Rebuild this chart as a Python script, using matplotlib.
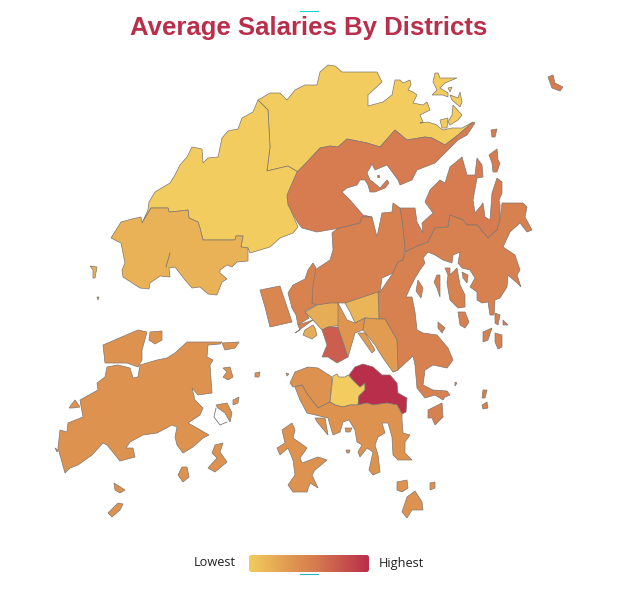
import numpy as np
import matplotlib
matplotlib.use('Agg')
import matplotlib.pyplot as plt
from matplotlib.colors import LinearSegmentedColormap
from matplotlib.patches import FancyBboxPatch

# outlines, pixel positions
north = [
    [(258,100),(268,110),(270,147),(267,171),(288,166),(298,172),(307,162),(320,148),(330,146),(338,147),(347,139),(367,143),(380,147),(388,138),(395,130),(407,140),(425,137),(432,138),(445,145),(458,135),(473,122),(462,128),(452,128),(443,130),(440,128),(437,125),(428,122),(420,123),(423,122),(420,115),(430,110),(427,102),(423,105),(413,103),(417,95),(413,92),(408,90),(411,85),(410,80),(403,83),(400,80),(395,80),(392,95),(383,102),(368,106),(368,95),(382,82),(377,72),(357,72),(342,72),(335,66),(328,65),(320,72),(317,85),(305,85),(295,90),(287,100),(280,93),(270,93)],
    [(435,73),(438,73),(440,78),(457,78),(445,83),(440,88),(448,93),(448,97),(443,95),(432,95),(437,90),(433,82)],
    [(448,88),(452,87),(450,92)],
    [(460,92),(462,102),(460,107),(452,100),(450,95),(458,98)],
    [(453,105),(462,115),(458,120),(450,125),(448,122),(452,115)],
    [(440,120),(448,118),(447,128),(442,128)],
]
tuen_mun = [
    [(111,238),(121,222),(132,219),(141,217),(142,223),(151,208),(168,208),(169,212),(180,211),(188,210),(189,218),(198,222),(200,228),(203,240),(235,240),(236,236),(243,236),(241,247),(248,248),(248,261),(237,262),(232,267),(227,265),(220,270),(220,273),(227,279),(222,282),(217,295),(208,294),(200,287),(192,288),(185,280),(175,267),(169,268),(170,277),(160,276),(150,283),(149,289),(140,288),(123,277),(122,270),(125,263),(121,243)],
    [(90,266),(97,267),(95,278),(93,278),(93,270)],
    [(97,297),(99,297),(98,300)],
]
yuen_long = [
    [(142,223),(148,210),(149,202),(155,192),(170,183),(175,175),(180,165),(187,157),(192,147),(202,149),(203,163),(208,158),(218,157),(222,138),(228,131),(238,129),(242,118),(253,112),(258,100),(268,110),(270,147),(267,171),(288,166),(298,172),(287,197),(292,213),(298,227),(293,233),(280,238),(270,247),(250,253),(248,248),(241,247),(243,236),(236,236),(235,240),(203,240),(200,228),(198,222),(189,218),(188,210),(180,211),(169,212),(168,208),(151,208)],
]
tai_po = [
    [(297,172),(307,162),(320,148),(330,146),(338,147),(347,139),(367,143),(380,147),(388,138),(395,130),(407,140),(425,137),(432,138),(445,145),(458,135),(473,122),(475,123),(467,135),(458,140),(450,148),(443,155),(435,163),(417,170),(412,180),(400,185),(398,180),(387,165),(375,170),(372,164),(367,173),(370,180),(373,182),(380,188),(387,180),(389,183),(385,188),(375,192),(370,192),(368,185),(365,180),(360,180),(357,185),(347,188),(342,192),(343,193),(350,200),(363,215),(372,217),(362,217),(360,223),(340,228),(317,232),(302,228),(298,223),(288,205),(287,195)],
    [(400,208),(415,208),(417,222),(423,233),(422,223),(433,213),(425,202),(430,190),(440,180),(445,183),(450,167),(462,157),(467,175),(475,175),(477,158),(482,165),(483,177),(477,178),(473,200),(475,213),(480,207),(483,203),(485,217),(490,220),(492,193),(497,178),(502,182),(502,193),(499,200),(500,205),(500,220),(497,230),(488,238),(477,225),(467,225),(463,220),(450,215),(448,227),(435,228),(428,242),(415,247),(405,252),(402,220)],
    [(491,130),(497,129),(495,137),(492,137)],
    [(489,155),(497,149),(498,160),(500,163),(497,172),(493,172),(492,163)],
    [(548,77),(553,75),(555,83),(563,87),(560,91),(552,88)],
    [(377,175),(379,175),(379,177),(377,177)],
]
sha_tin = [
    [(372,217),(377,237),(382,213),(392,212),(393,203),(400,208),(402,220),(405,247),(403,260),(398,262),(393,273),(382,278),(380,292),(345,303),(338,303),(317,305),(312,303),(310,290),(315,270),(330,260),(333,250),(332,233),(338,228),(340,228),(360,223),(362,217)],
]
sai_kung = [
    [(405,252),(415,247),(428,242),(435,228),(448,227),(450,215),(463,220),(467,225),(477,225),(488,238),(497,230),(500,220),(502,203),(523,203),(527,207),(525,217),(532,230),(527,232),(520,223),(510,232),(503,247),(515,255),(520,270),(517,275),(521,287),(517,283),(508,275),(507,287),(500,298),(495,300),(494,315),(490,315),(488,302),(482,303),(477,300),(477,292),(470,287),(475,278),(470,270),(462,268),(458,263),(460,252),(453,255),(452,263),(443,260),(435,255),(428,252),(423,258),(425,263),(420,270),(415,278),(410,288),(406,297),(412,297),(415,312),(417,330),(423,333),(437,335),(448,348),(453,360),(447,368),(433,365),(425,370),(423,385),(433,390),(447,391),(450,395),(445,397),(443,400),(435,395),(425,398),(417,388),(415,365),(413,356),(400,368),(393,372),(398,370),(397,340),(385,319),(379,319),(378,292),(380,292),(393,273),(398,262),(403,260)],
    [(437,275),(440,275),(440,297),(437,288),(434,282)],
    [(445,268),(450,268),(450,275),(457,268),(460,285),(465,295),(465,307),(458,308),(450,300),(447,283),(448,275)],
    [(462,272),(468,275),(467,283),(463,278)],
    [(458,312),(465,312),(469,322),(465,328),(460,325)],
    [(418,280),(423,288),(421,298),(416,291)],
    [(438,322),(445,328),(442,333),(438,328)],
    [(495,313),(500,315),(498,325),(495,323)],
    [(503,320),(508,325),(503,325)],
    [(483,332),(492,328),(488,340),(483,342)],
    [(495,333),(502,335),(502,347),(498,349),(495,342)],
    [(455,382),(457,383),(455,386)],
    [(483,390),(487,390),(485,398),(482,398)],
    [(482,405),(487,402),(488,408),(483,409)],
    [(428,410),(442,403),(443,417),(435,425),(432,418),(428,418)],
]
kwai_tsing = [
    [(260,290),(280,286),(292,322),(270,327),(265,307)],
]
tsuen_wan = [
    [(288,293),(293,285),(305,279),(308,270),(313,263),(316,268),(313,285),(312,303),(316,305),(305,311),(309,318),(298,325),(296,315),(292,308)],
    [(295,333),(313,320),(298,325),(300,330)],
]
sham_shui_po = [
    [(305,312),(317,305),(330,303),(338,303),(341,325),(328,327),(322,330),(313,320)],
    [(313,325),(315,328),(317,335),(312,339),(303,335),(305,330)],
]
wong_tai_sin = [
    [(345,303),(378,292),(379,319),(365,318),(355,323),(350,312)],
]
yau_tsim_mong = [
    [(322,330),(328,327),(338,327),(343,342),(348,357),(337,363),(328,357),(322,357),(327,345)],
]
kowloon_city = [
    [(338,303),(347,320),(355,323),(365,318),(363,330),(355,333),(348,357),(343,342),(338,327)],
]
kwun_tong = [
    [(365,318),(379,319),(385,319),(397,340),(398,370),(393,372),(383,358),(375,345),(363,330)],
    [(358,333),(365,333),(375,350),(372,353)],
]
central_western = [
    [(290,383),(295,372),(308,367),(318,368),(332,377),(330,402),(318,408),(308,395),(302,385),(293,387)],
]
wan_chai = [
    [(333,376),(337,374),(339,377),(345,377),(348,375),(353,380),(360,387),(365,383),(365,390),(359,396),(358,405),(350,405),(343,407),(335,405),(330,402)],
]
eastern = [
    [(349,375),(355,367),(363,364),(373,367),(382,375),(390,375),(397,383),(398,393),(407,398),(406,412),(402,414),(397,405),(387,403),(373,405),(367,403),(358,405),(359,396),(365,390),(365,383),(360,387),(353,380)],
]
southern = [
    [(295,387),(302,385),(308,395),(318,408),(330,402),(335,405),(343,407),(350,405),(358,405),(367,403),(373,405),(387,403),(397,405),(402,414),(402,420),(403,433),(410,435),(405,442),(405,453),(412,460),(398,460),(393,455),(392,437),(388,423),(382,423),(385,433),(378,437),(375,445),(378,455),(380,472),(373,475),(369,470),(373,452),(367,448),(360,457),(358,452),(362,445),(357,442),(355,430),(349,420),(343,422),(340,432),(333,435),(328,418),(307,413),(300,400)],
    [(315,418),(325,418),(328,435),(318,423)],
    [(282,430),(292,423),(295,430),(293,438),(303,445),(307,448),(300,458),(302,463),(318,457),(327,460),(315,470),(312,475),(318,488),(310,483),(307,492),(293,492),(288,485),(295,475),(293,460),(288,448),(280,455),(277,448),(285,443)],
    [(397,482),(407,480),(408,488),(402,492),(397,490)],
    [(415,491),(422,502),(423,510),(412,510),(407,518),(402,512),(407,497)],
    [(430,483),(435,482),(435,488),(430,490)],
    [(346,450),(350,450),(349,453),(347,453)],
    [(345,428),(352,428),(350,432),(346,432)],
    [(255,373),(260,372),(259,377),(255,377)],
    [(286,373),(289,374),(287,376)],
]
islands = [
    [(60,430),(67,432),(68,423),(83,417),(80,400),(98,390),(97,383),(105,377),(107,367),(118,365),(130,368),(133,378),(138,377),(140,365),(157,360),(167,358),(175,353),(187,342),(222,342),(220,344),(208,345),(207,357),(213,360),(210,365),(212,393),(198,395),(192,388),(195,400),(203,408),(200,415),(188,423),(197,428),(209,435),(203,438),(193,447),(183,453),(177,445),(175,437),(177,427),(172,425),(157,433),(143,435),(130,442),(126,448),(133,448),(135,457),(120,461),(107,445),(103,443),(92,455),(78,465),(70,468),(65,473),(58,448)],
    [(103,345),(138,330),(147,332),(142,350),(142,360),(138,367),(127,363),(105,363)],
    [(150,332),(162,331),(162,340),(155,344),(149,340)],
    [(222,343),(239,342),(235,348),(225,350)],
    [(69,408),(75,400),(80,407),(73,408)],
    [(223,368),(230,367),(233,377),(228,380),(223,377),(227,372)],
    [(233,400),(239,397),(238,403),(233,405)],
    [(216,405),(227,403),(232,413),(230,422),(225,413),(218,408)],
    [(215,445),(223,443),(220,452),(227,462),(215,472),(208,468),(217,458),(212,453)],
    [(182,467),(187,467),(189,477),(183,482),(178,475)],
    [(114,483),(125,490),(120,493),(115,490)],
    [(108,513),(118,503),(123,504),(120,510),(112,517)],
    [(55,448),(58,450),(57,452)],
]
empty_outline = [(216,408),(214,417),(220,425),(227,422)]
tuen_mun_crease = [(170,253),(168,260),(166,267)]

districts = [north, yuen_long, tuen_mun, tai_po, sha_tin, sai_kung, kwai_tsing, tsuen_wan,
             sham_shui_po, wong_tai_sin, yau_tsim_mong, kowloon_city, kwun_tong,
             central_western, wan_chai, eastern, southern, islands]
# position between lowest and highest
salary_level = [0.0, 0.0, 0.17, 0.55, 0.52, 0.52, 0.47, 0.5,
                0.2, 0.15, 0.72, 0.36, 0.32,
                0.38, 0.0, 1.0, 0.38, 0.38]

title = 'Average Salaries By Districts'
legend_low = 'Lowest'
legend_high = 'Highest'

cmap = LinearSegmentedColormap.from_list('salary', [(0, '#F2CC5E'), (0.38, '#DE924F'), (0.55, '#D67C50'), (1, '#B92E4A')])

fig = plt.figure(figsize=(6.2, 6.0), dpi=100)
ax = fig.add_axes([0, 0, 1, 1])
ax.set_xlim(0, 620)
ax.set_ylim(600, 0)
ax.axis('off')

for rings, level in zip(districts, salary_level):
    for ring in rings:
        xy = np.array(ring)
        ax.fill(xy[:, 0], xy[:, 1], facecolor=cmap(level), edgecolor='#80776f', linewidth=0.5)
xy = np.array(empty_outline)
ax.plot(xy[:, 0], xy[:, 1], color='#777777', lw=0.6)
xy = np.array(tuen_mun_crease)
ax.plot(xy[:, 0], xy[:, 1], color='#80776f', lw=0.6)

ax.text(309, 27.5, title, ha='center', va='center', color='#B92E4A', fontsize=18.5,
        fontweight='bold', family='Liberation Sans')

# legend bar
grad = ax.imshow(np.linspace(0, 1, 256).reshape(1, -1), cmap=cmap, extent=(249, 369, 572, 555), aspect='auto')
box = FancyBboxPatch((249, 555), 120, 17, boxstyle='round,pad=0,rounding_size=2.5', fc='none', ec='none',
                     transform=ax.transData)
ax.add_patch(box)
grad.set_clip_path(box)
ax.set_xlim(0, 620)
ax.set_ylim(600, 0)
ax.text(214.5, 566.5, legend_low, ha='center', va='baseline', fontsize=9.2, family='Open Sans', color='#222222')
ax.text(401, 566.5, legend_high, ha='center', va='baseline', fontsize=9.2, family='Open Sans', color='#222222')

# stray cyan marks from the page
ax.plot([300, 318], [10.5, 10.5], color='#19d3da', lw=0.8)
ax.plot([300, 318], [573.5, 573.5], color='#2bb5bd', lw=0.8)

fig.savefig('out.png', dpi=100)
